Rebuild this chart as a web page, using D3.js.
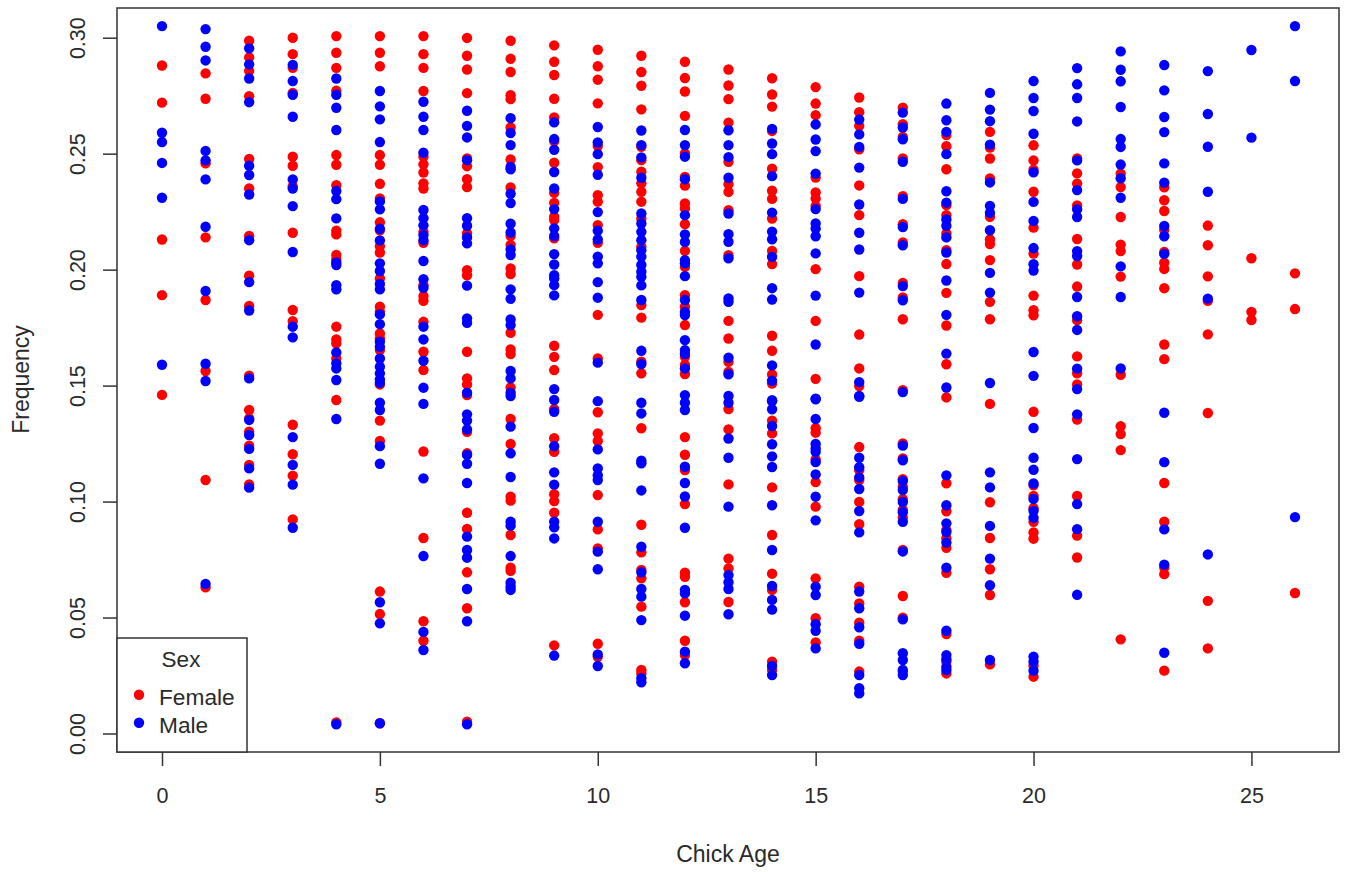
<!DOCTYPE html>
<html>
<head>
<meta charset="utf-8">
<script src="https://cdn.jsdelivr.net/npm/d3@7"></script>
<style>
  html, body { margin: 0; padding: 0; background: #fff; }
  svg { display: block; }
  text { font-family: "Liberation Sans", Arial, sans-serif; fill: #2a2a2a; }
</style>
</head>
<body>
<svg></svg>
<script>
const width = 1352;
const height = 872;

const xTicks = [0, 5, 10, 15, 20, 25];
const yTicks = [0, 0.05, 0.10, 0.15, 0.20, 0.25, 0.30];

// one list per chick age (0 to 26)
const femaleByAge = [
  [.288, .272, .213, .189, .146],
  [.2846, .2737, .2458, .2139, .1869, .1563, .1093, .0630],
  [.2987, .2915, .2857, .2748, .2477, .2350, .2145, .1974, .1843, .1543, .1395, .1359, .1301, .1241, .1158, .1074],
  [.3000, .2929, .2870, .2762, .2487, .2448, .2360, .2159, .1826, .1778, .1331, .1204, .1112, .0923],
  [.3007, .2935, .2870, .2771, .2494, .2452, .2364, .2168, .2152, .2063, .2044, .1754, .1699, .1682, .1617, .1438, .0048],
  [.3007, .2935, .2877, .2494, .2452, .2370, .2307, .2204, .2170, .2101, .2074, .1962, .1840, .1818, .1725, .1703, .1653, .1505, .1349, .1261, .0612, .0515, .0044],
  [.3007, .2929, .2870, .2770, .2487, .2454, .2419, .2372, .2350, .2163, .2116, .1933, .1886, .1866, .1775, .1646, .1567, .1216, .0843, .0484, .0400],
  [.2999, .2922, .2863, .2761, .2479, .2446, .2390, .2356, .2156, .1998, .1976, .1646, .1531, .1505, .1459, .1301, .1208, .0952, .0882, .0695, .0540, .0051],
  [.2987, .2909, .2852, .2752, .2735, .2613, .2475, .2354, .2145, .2106, .2005, .1981, .1728, .1656, .1636, .1492, .1356, .1248, .1021, .1004, .0856, .0715, .0701],
  [.2967, .2896, .2839, .2737, .2656, .2554, .2461, .2331, .2288, .2228, .2214, .2135, .1672, .1624, .1567, .1398, .1273, .1215, .1032, .1002, .0952, .0380],
  [.2948, .2877, .2819, .2717, .2533, .2442, .2321, .2293, .2192, .2116, .1805, .1617, .1385, .1294, .1261, .1028, .0880, .0798, .0387, .0331],
  [.2922, .2852, .2793, .2691, .2530, .2472, .2422, .2372, .2336, .2293, .2221, .2099, .1847, .1793, .1603, .1553, .1316, .0900, .0781, .0705, .0669, .0547, .0274, .0259],
  [.2896, .2826, .2768, .2663, .2501, .2400, .2362, .2285, .2264, .2196, .2081, .2012, .1890, .1840, .1761, .1624, .1589, .1550, .1278, .1202, .1136, .0989, .0693, .0676, .0566, .0400, .0338],
  [.2863, .2794, .2735, .2634, .2465, .2368, .2335, .2256, .2062, .1779, .1703, .1603, .1559, .1399, .1311, .1074, .0754, .0712, .0567],
  [.2825, .2755, .2703, .2598, .2435, .2340, .2305, .2220, .2081, .2024, .1715, .1650, .1548, .1509, .1349, .1294, .1061, .0856, .0689, .0619, .0310, .0274],
  [.2787, .2716, .2666, .2397, .2333, .2307, .2275, .2002, .1779, .1529, .1316, .1297, .1182, .1084, .0978, .0669, .0497, .0393],
  [.2742, .2679, .2620, .2519, .2363, .2235, .1972, .1720, .1574, .1498, .1235, .1136, .1093, .0998, .0902, .0633, .0561, .0478, .0400, .0267],
  [.2698, .2627, .2572, .2479, .2317, .2196, .2117, .1943, .1880, .1786, .1480, .1251, .1186, .1096, .1064, .1010, .0964, .0931, .0791, .0593, .0499, .0267],
  [.2580, .2532, .2433, .2278, .2235, .2156, .2084, .2024, .1900, .1759, .1592, .1449, .1079, .0958, .0877, .0841, .0801, .0693, .0429, .0310, .0259],
  [.2594, .2526, .2479, .2393, .2228, .2130, .2110, .2041, .1861, .1786, .1421, .0997, .0843, .0708, .0597, .0298],
  [.2536, .2471, .2431, .2336, .2181, .2069, .1888, .1825, .1803, .1387, .1070, .1024, .0971, .0913, .0867, .0840, .0292, .0245],
  [.2479, .2415, .2371, .2277, .2132, .2022, .1927, .1782, .1626, .1553, .1505, .1354, .1024, .0853, .0759],
  [.2414, .2356, .2227, .2108, .2080, .1970, .1547, .1325, .1291, .1222, .0406],
  [.2355, .2299, .2253, .2172, .2076, .2030, .2003, .1920, .1677, .1614, .1080, .0913, .0716, .0687, .0271],
  [.2190, .2105, .1971, .1866, .1721, .1382, .0572, .0367],
  [.2049, .1818, .1783],
  [.1984, .1830, .0606]
];

const maleByAge = [
  [.305, .259, .255, .246, .231, .159],
  [.3037, .2961, .2902, .2512, .2471, .2389, .2185, .1908, .1594, .1520, .0645],
  [.2954, .2885, .2824, .2722, .2448, .2408, .2324, .2127, .1946, .1824, .1531, .1352, .1287, .1227, .1143, .1060],
  [.2883, .2813, .2754, .2659, .2389, .2350, .2274, .2076, .1754, .1708, .1278, .1158, .1073, .0887],
  [.2824, .2754, .2698, .2602, .2339, .2304, .2221, .2031, .2020, .1933, .1915, .1643, .1596, .1574, .1524, .1356, .0040],
  [.2770, .2704, .2648, .2550, .2294, .2260, .2176, .2126, .2027, .1994, .1938, .1915, .1807, .1765, .1689, .1667, .1617, .1581, .1553, .1527, .1512, .1426, .1395, .1239, .1163, .0566, .0475, .0044],
  [.2724, .2659, .2602, .2504, .2257, .2222, .2191, .2149, .2127, .2037, .1959, .1922, .1754, .1699, .1607, .1491, .1421, .1100, .0765, .0438, .0360],
  [.2685, .2620, .2570, .2472, .2222, .2189, .2139, .2113, .1931, .1790, .1771, .1469, .1376, .1349, .1311, .1201, .1163, .1080, .0849, .0791, .0758, .0623, .0484, .0040],
  [.2653, .2589, .2537, .2443, .2433, .2327, .2287, .2198, .2160, .2087, .2063, .1915, .1874, .1785, .1761, .1563, .1531, .1469, .1455, .1323, .1208, .1106, .0913, .0896, .0765, .0650, .0633, .0619],
  [.2635, .2563, .2517, .2421, .2350, .2261, .2178, .2145, .2067, .2022, .1976, .1962, .1933, .1889, .1485, .1438, .1387, .1239, .1126, .1073, .0913, .0889, .0841, .0336],
  [.2615, .2548, .2498, .2409, .2248, .2168, .2130, .2056, .2027, .1946, .1879, .1599, .1433, .1225, .1143, .1114, .1093, .0913, .0784, .0708, .0341, .0291],
  [.2600, .2537, .2484, .2396, .2242, .2199, .2163, .2127, .2084, .2056, .2020, .1991, .1969, .1932, .1869, .1650, .1593, .1426, .1380, .1176, .1165, .1048, .0805, .0695, .0623, .0590, .0489, .0238, .0221],
  [.2602, .2537, .2487, .2390, .2235, .2152, .2119, .2041, .2027, .1972, .1869, .1818, .1804, .1696, .1653, .1636, .1574, .1459, .1426, .1395, .1150, .1080, .1022, .0887, .0619, .0604, .0508, .0353, .0303],
  [.2601, .2537, .2485, .2396, .2242, .2153, .2120, .2049, .1876, .1861, .1620, .1549, .1455, .1426, .1272, .1189, .0978, .0683, .0652, .0623, .0514],
  [.2607, .2544, .2498, .2403, .2246, .2164, .2131, .2055, .1920, .1871, .1587, .1521, .1437, .1433, .1398, .1326, .1247, .1195, .1149, .0984, .0791, .0636, .0576, .0534, .0291, .0252],
  [.2626, .2561, .2511, .2414, .2261, .2199, .2177, .2144, .2070, .1888, .1677, .1444, .1441, .1356, .1248, .1229, .1215, .1170, .1117, .1021, .0919, .0633, .0597, .0471, .0443, .0367],
  [.2647, .2583, .2529, .2440, .2281, .2159, .2087, .1901, .1515, .1455, .1452, .1189, .1148, .1104, .1054, .0959, .0867, .0612, .0540, .0458, .0387, .0252, .0195, .0173],
  [.2677, .2613, .2562, .2465, .2305, .2184, .2105, .1929, .1868, .1472, .1241, .1178, .1089, .1050, .0998, .0954, .0913, .0785, .0492, .0346, .0317, .0274, .0252],
  [.2716, .2644, .2594, .2498, .2338, .2289, .2216, .2189, .2139, .2074, .1953, .1805, .1638, .1492, .1113, .0984, .0906, .0869, .0823, .0715, .0443, .0338, .0320, .0288, .0274],
  [.2762, .2690, .2640, .2539, .2376, .2275, .2245, .2170, .1986, .1901, .1511, .1126, .1061, .0895, .0754, .0639, .0317],
  [.2813, .2740, .2684, .2586, .2420, .2292, .2210, .2093, .2023, .1996, .1645, .1542, .1317, .1189, .1137, .1078, .1011, .0960, .0930, .0331, .0310, .0271],
  [.2869, .2799, .2740, .2639, .2471, .2343, .2260, .2227, .2080, .2059, .1882, .1799, .1740, .1573, .1485, .1376, .1183, .0989, .0881, .0598],
  [.2941, .2862, .2812, .2701, .2563, .2529, .2453, .2394, .2310, .2014, .1882, .1574],
  [.2882, .2773, .2658, .2593, .2458, .2375, .2188, .2144, .2068, .1383, .1170, .0880, .0728, .0348],
  [.2856, .2671, .2530, .2336, .1875, .0772],
  [.2947, .2569],
  [.3050, .2813, .0933]
];

const legendLabels = ['Female', 'Male'];
const colors = { Female: '#ff0000', Male: '#0000ff' };

const box = { left: 117, top: 8, right: 1339, bottom: 752 };
const legendBox = { right: 247, top: 638 };
const pointRadius = 5.2;
const axisColor = '#333';

const svg = d3.select('svg')
  .attr('width', width)
  .attr('height', height);

const xScale = d3.scaleLinear()
  .domain([0, 26])
  .range([162, 1295]);

const yScale = d3.scaleLinear()
  .domain([0, 0.30])
  .range([733.5, 37.7]);

const xAxis = d3.axisBottom(xScale).tickValues(xTicks).tickSize(14).tickPadding(22);
const yAxis = d3.axisLeft(yScale).tickValues(yTicks).tickSize(14).tickFormat(d3.format('.2f'));

const gx = svg.append('g')
  .attr('transform', `translate(0,${box.bottom})`)
  .call(xAxis);

const gy = svg.append('g')
  .attr('transform', `translate(${box.left},0)`)
  .call(yAxis);

gy.selectAll('.tick text')
  .attr('x', 0)
  .attr('y', 0)
  .attr('dy', 0)
  .attr('transform', 'translate(-32,0) rotate(-90)')
  .attr('text-anchor', 'middle');

[gx, gy].forEach(g => {
  g.select('.domain').remove();
  g.selectAll('.tick line').attr('stroke', axisColor).attr('stroke-width', 1.5);
  g.selectAll('.tick text').attr('font-size', 21.5).attr('font-family', '"Liberation Sans", Arial, sans-serif').attr('fill', '#2a2a2a');
});

function drawPoints(byAge, color) {
  const rows = byAge.flatMap((vals, age) => vals.map(v => ({ age, v })));
  svg.append('g').selectAll('circle')
    .data(rows)
    .enter().append('circle')
    .attr('cx', d => xScale(d.age))
    .attr('cy', d => yScale(d.v))
    .attr('r', pointRadius)
    .attr('fill', color);
}

// blue goes on top of red everywhere in the original
drawPoints(femaleByAge, colors.Female);
drawPoints(maleByAge, colors.Male);

svg.append('rect')
  .attr('x', box.left)
  .attr('y', box.top)
  .attr('width', box.right - box.left)
  .attr('height', box.bottom - box.top)
  .attr('fill', 'none')
  .attr('stroke', axisColor)
  .attr('stroke-width', 1.5);

// legend
svg.append('rect')
  .attr('x', box.left)
  .attr('y', legendBox.top)
  .attr('width', legendBox.right - box.left)
  .attr('height', box.bottom - legendBox.top)
  .attr('fill', '#fff')
  .attr('stroke', axisColor)
  .attr('stroke-width', 1.5);

svg.append('text')
  .attr('x', 181)
  .attr('y', 666.5)
  .attr('text-anchor', 'middle')
  .attr('font-size', 22.5)
  .text('Sex');

const legendRows = svg.append('g').selectAll('g')
  .data(legendLabels)
  .enter().append('g')
  .attr('transform', (d, i) => `translate(139,${694.7 + i * 28})`);

legendRows.append('circle')
  .attr('r', pointRadius)
  .attr('fill', d => colors[d]);

legendRows.append('text')
  .attr('x', 20)
  .attr('y', 10.5)
  .attr('font-size', 22.7)
  .text(d => d);

svg.append('text')
  .attr('x', 728)
  .attr('y', 862)
  .attr('text-anchor', 'middle')
  .attr('font-size', 23)
  .text('Chick Age');

svg.append('text')
  .attr('transform', 'translate(29,379.5) rotate(-90)')
  .attr('text-anchor', 'middle')
  .attr('font-size', 23)
  .text('Frequency');
</script>
</body>
</html>
